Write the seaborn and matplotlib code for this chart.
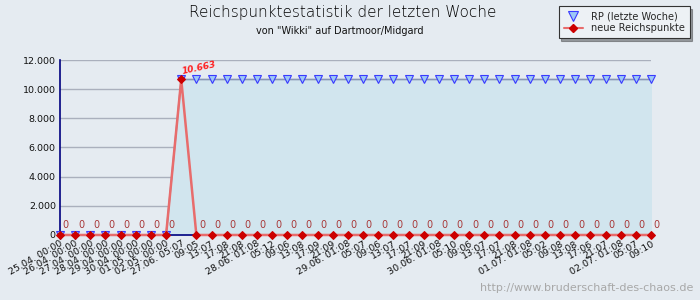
import numpy as np
import pandas as pd
import matplotlib
matplotlib.use("Agg")
import matplotlib.pyplot as plt
import seaborn as sns
from matplotlib.lines import Line2D

# Daten
zeitpunkte = [
    "25.04. 00:00", "26.04. 00:00", "27.04. 00:00", "28.04. 00:00",
    "29.04. 00:00", "30.04. 00:00", "01.05. 00:00", "02.05. 00:00",
    "27.06. 05:07", "09:05", "13:07", "17:08", "21:08",
    "28.06. 01:08", "05:12", "09:06", "13:08", "17:09", "21:09",
    "29.06. 01:08", "05:07", "09:06", "13:07", "17:07", "21:09",
    "30.06. 01:08", "05:10", "09:06", "13:07", "17:07", "21:08",
    "01.07. 01:08", "05:02", "09:08", "13:08", "17:06", "21:07",
    "02.07. 01:08", "05:07", "09:10",
]
rp_letzte_woche = [
    0, 0, 0, 0, 0, 0, 0, 0,
    10663, 10663, 10663, 10663, 10663, 10663, 10663, 10663,
    10663, 10663, 10663, 10663, 10663, 10663, 10663, 10663,
    10663, 10663, 10663, 10663, 10663, 10663, 10663, 10663,
    10663, 10663, 10663, 10663, 10663, 10663, 10663, 10663,
]
neue_punkte = [
    0, 0, 0, 0, 0, 0, 0, 0,
    10663, 0, 0, 0, 0, 0, 0, 0,
    0, 0, 0, 0, 0, 0, 0, 0,
    0, 0, 0, 0, 0, 0, 0, 0,
    0, 0, 0, 0, 0, 0, 0, 0,
]

df = pd.DataFrame({
    "idx": np.arange(len(zeitpunkte)),
    "rp": rp_letzte_woche,
    "neu": neue_punkte,
})

bg = "#e5ebf1"
navy = "#000080"

sns.set_style("white")
plt.rcParams["font.family"] = ["DejaVu Sans"]

fig = plt.figure(figsize=(7, 3), dpi=100, facecolor=bg)
ax = fig.add_axes([0.0857, 0.2167, 0.8443, 0.5833])
ax.set_facecolor(bg)

# Fläche + Linie RP
ax.fill_between(df["idx"], df["rp"], 0, color="#d1e5ee", zorder=1)
sns.lineplot(data=df, x="idx", y="rp", ax=ax, color="#8795b5", linewidth=1.2,
             marker="v", markersize=6, markerfacecolor="#9cc8f5",
             markeredgecolor="#3a3aff", markeredgewidth=0.8, zorder=3, clip_on=False)

# neue Reichspunkte
sns.lineplot(data=df, x="idx", y="neu", ax=ax, color="#e86c6c", linewidth=1.8,
             zorder=4, clip_on=False)
sns.lineplot(data=df, x="idx", y="neu", ax=ax, color="#cc0000", linewidth=0,
             marker="D", markersize=4.5, markeredgecolor="#cc0000",
             zorder=5, clip_on=False)

# Wertebeschriftung
for i, v in zip(df["idx"], df["neu"]):
    if v > 0:
        ax.annotate(f"{v:,}".replace(",", "."), (i, v), xytext=(0, 4),
                    textcoords="offset points", fontsize=6.5, color="#ff2020",
                    fontweight="bold", fontstyle="italic", rotation=12, ha="left")
    else:
        ax.annotate("0", (i, v), xytext=(2, 5), textcoords="offset points",
                    fontsize=7, color="#a83838", ha="left")

ax.set_xlim(0, len(zeitpunkte) - 1)
ax.set_ylim(0, 12000)
ax.set_yticks(range(0, 12001, 2000))
ax.set_yticklabels([f"{t:,}".replace(",", ".") for t in range(0, 12001, 2000)])
ax.set_xticks(df["idx"])
ax.set_xticklabels(zeitpunkte, rotation=30, ha="right", rotation_mode="anchor")
ax.tick_params(axis="both", direction="in", length=4, color=navy, labelsize=6.8,
               pad=3, labelcolor="#111111")
ax.set_xlabel("")
ax.set_ylabel("")
ax.grid(axis="y", color="#aab0bd", linewidth=1)
ax.grid(axis="x", visible=False)
ax.set_axisbelow(True)
for s in ["top", "right"]:
    ax.spines[s].set_visible(False)
for s in ["left", "bottom"]:
    ax.spines[s].set_color(navy)
    ax.spines[s].set_linewidth(1.2)

# Titel
fig.text(0.49, 0.96, "Reichspunktestatistik der letzten Woche", ha="center",
         va="center", fontsize=11, color="#000000", fontweight="light")
fig.text(0.486, 0.898, 'von "Wikki" auf Dartmoor/Midgard', ha="center",
         va="center", fontsize=7, color="#111111")

# Legende
handles = [
    Line2D([], [], color="none", marker="v", markersize=7, markerfacecolor="#9cc8f5",
           markeredgecolor="#3a3aff", markeredgewidth=0.8),
    Line2D([], [], color="#e86c6c", linewidth=1.5, marker="D", markersize=4.5,
           markerfacecolor="#cc0000", markeredgecolor="#cc0000"),
]
leg = fig.legend(handles, ["RP (letzte Woche)", "neue Reichspunkte"],
                 loc="upper right", bbox_to_anchor=(0.992, 0.995), fontsize=7,
                 frameon=True, fancybox=False, shadow=True, borderpad=0.5,
                 handlelength=2, labelspacing=0.2, handletextpad=0.8)
leg.get_frame().set_facecolor("#edf1f5")
leg.get_frame().set_edgecolor("#333333")
leg.get_frame().set_linewidth(0.8)

# Wasserzeichen
fig.text(0.99, 0.04, "http://www.bruderschaft-des-chaos.de", ha="right",
         va="center", fontsize=8, color="#a8a8a8")

fig.savefig("out.png", dpi=100, facecolor=bg)
